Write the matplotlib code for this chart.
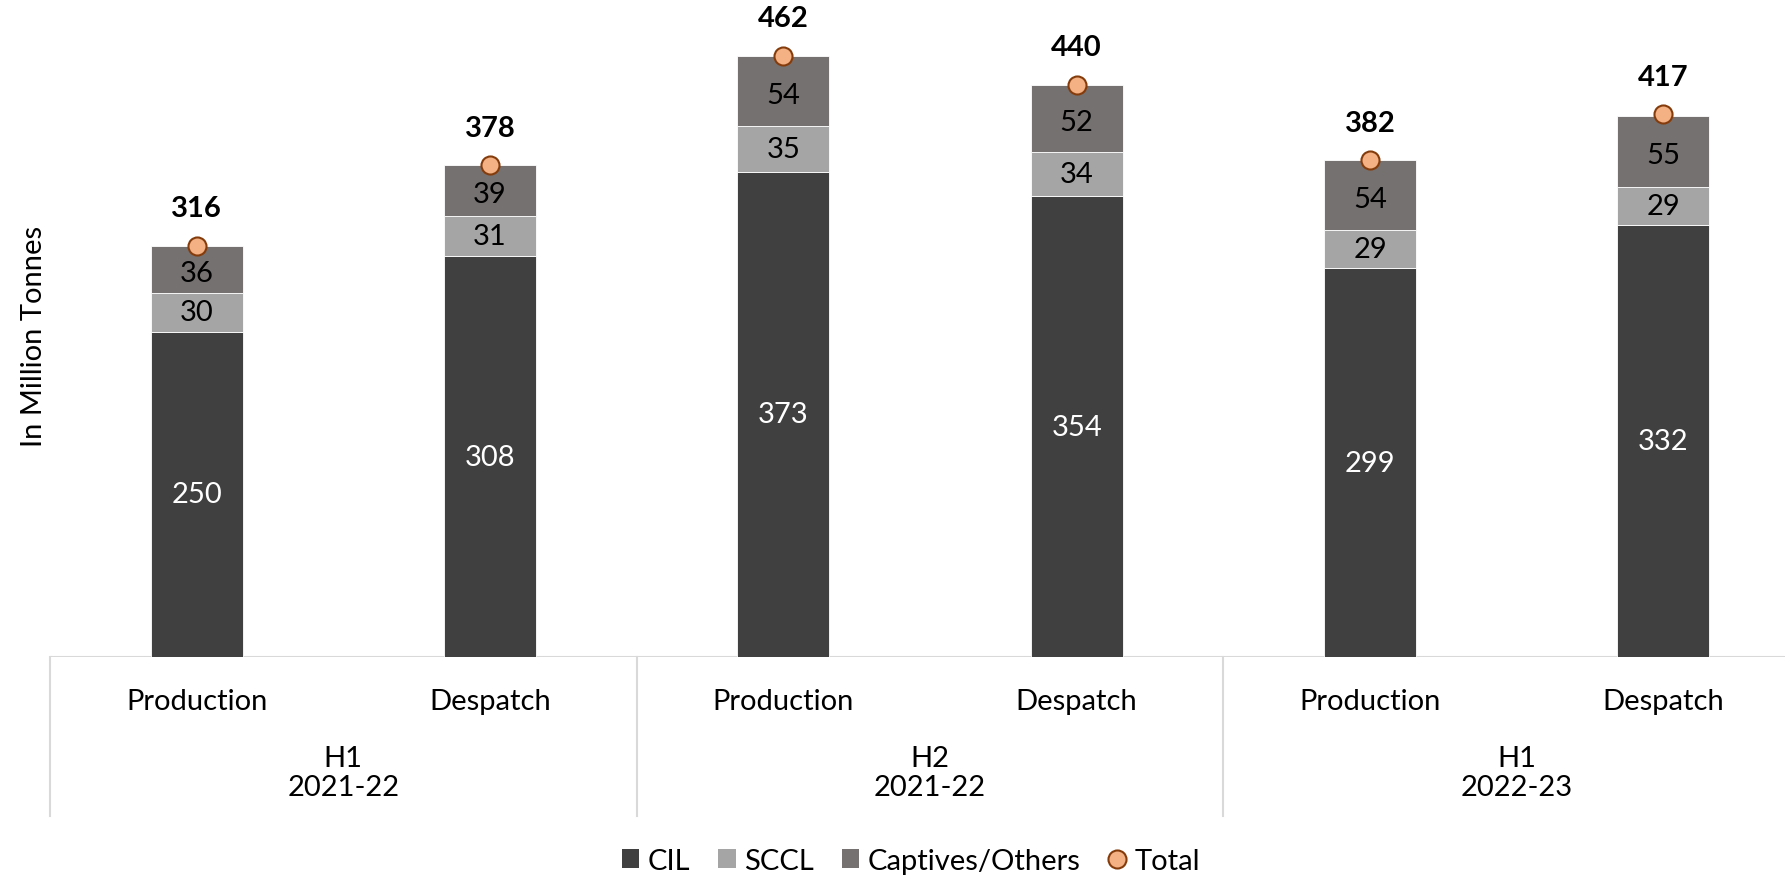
import numpy as np
import matplotlib.pyplot as plt
from matplotlib.lines import Line2D
from matplotlib.patches import Patch

# -----------------------------
# Data (million tonnes)
# -----------------------------
categories = ['Production', 'Despatch', 'Production', 'Despatch', 'Production', 'Despatch']
groups = ['H1\n2021-22', 'H2\n2021-22', 'H1\n2022-23']
cil = [250, 308, 373, 354, 299, 332]
sccl = [30, 31, 35, 34, 29, 29]
captives = [36, 39, 54, 52, 54, 55]
total = [316, 378, 462, 440, 382, 417]

c_cil = '#404040'
c_sccl = '#A5A5A5'
c_cap = '#767171'
c_tot = '#F4B183'
c_tot_edge = '#843C0C'
grid_c = '#D9D9D9'

plt.rcParams['font.family'] = ['Lato', 'DejaVu Sans']
fs = 21

fig = plt.figure(figsize=(17.85, 8.78), dpi=100)
ax = fig.add_axes([50 / 1785, 1 - 658 / 878, 1760 / 1785, 650.5 / 878])

x = np.arange(len(categories))
w = 0.314
cil_a = np.array(cil)
sccl_a = np.array(sccl)
cap_a = np.array(captives)

ax.bar(x, cil_a, w, color=c_cil, edgecolor='white', linewidth=0.6, zorder=2)
ax.bar(x, sccl_a, w, bottom=cil_a, color=c_sccl, edgecolor='white', linewidth=0.6, zorder=2)
ax.bar(x, cap_a, w, bottom=cil_a + sccl_a, color=c_cap, edgecolor='white', linewidth=0.6, zorder=2)
ax.plot(x, total, 'o', linestyle='none', markersize=13, markerfacecolor=c_tot,
        markeredgecolor=c_tot_edge, markeredgewidth=1.5, zorder=4)

# segment labels
for i in range(len(x)):
    ax.text(x[i], cil_a[i] / 2, str(cil[i]), ha='center', va='center', color='white', fontsize=fs, zorder=3)
    ax.text(x[i], cil_a[i] + sccl_a[i] / 2, str(sccl[i]), ha='center', va='center', color='black', fontsize=fs, zorder=3)
    ax.text(x[i], cil_a[i] + sccl_a[i] + cap_a[i] / 2 - 3, str(captives[i]), ha='center', va='center',
            color='black', fontsize=fs, zorder=3)
    ax.annotate(str(total[i]), (x[i], total[i]), xytext=(0, 27), textcoords='offset points',
                ha='center', va='center', fontsize=fs, fontweight='bold', color='black')

ax.set_xlim(-0.5, 5.5)
ax.set_ylim(0, 500)
for s in ax.spines.values():
    s.set_visible(False)
ax.set_xticks([])
ax.set_yticks([])
ax.axhline(0, color=grid_c, linewidth=1.5, zorder=1)

# multi-level category axis
tr = ax.get_xaxis_transform()
for i, c in enumerate(categories):
    ax.text(x[i], -0.068, c, transform=tr, ha='center', va='center', fontsize=fs)
for g, name in enumerate(groups):
    ax.text(2 * g + 0.5, -0.178, name, transform=tr, ha='center', va='center', fontsize=fs, linespacing=1.15)
for xs in [-0.5, 1.5, 3.5]:
    ax.plot([xs, xs], [0, -0.244], transform=tr, color=grid_c, linewidth=1.5, clip_on=False)

fig.text(34 / 1785, 1 - 336 / 878, 'In Million Tonnes', rotation=90, ha='center', va='center', fontsize=fs)

handles = [
    Patch(facecolor=c_cil, label='CIL'),
    Patch(facecolor=c_sccl, label='SCCL'),
    Patch(facecolor=c_cap, label='Captives/Others'),
    Line2D([], [], marker='o', linestyle='none', markersize=13, markerfacecolor=c_tot,
           markeredgecolor=c_tot_edge, markeredgewidth=1.5, label='Total'),
]
fig.legend(handles=handles, loc='center', bbox_to_anchor=(911 / 1785, 1 - 862 / 878), ncol=4,
           frameon=False, fontsize=fs, handlelength=0.6, handleheight=0.6, handletextpad=0.3,
           columnspacing=0.95)

fig.savefig('out.png', dpi=100)
